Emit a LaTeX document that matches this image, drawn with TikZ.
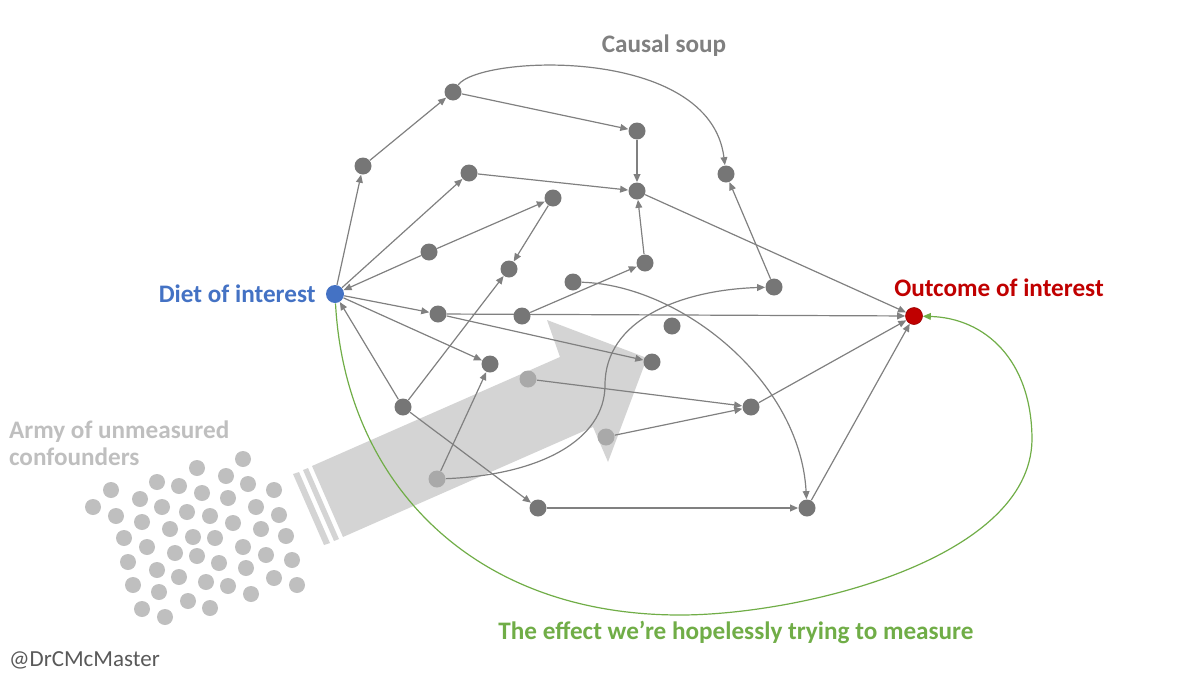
\documentclass[tikz,border=0pt]{standalone}
\usepackage{fontspec}
\setmainfont{Carlito}
\usetikzlibrary{positioning,arrows.meta}

\definecolor{soupgray}{HTML}{767676}
\definecolor{edgegray}{HTML}{808080}
\definecolor{fadegray}{HTML}{A9A9A9}
\definecolor{armygray}{HTML}{BFBFBF}
\definecolor{bigarrow}{HTML}{D4D4D4}
\definecolor{dietblue}{HTML}{4472C4}
\definecolor{outred}{HTML}{C00000}
\definecolor{effgreen}{HTML}{70AD47}

\pgfdeclarelayer{back}
\pgfsetlayers{back,main}

\begin{document}
\begin{tikzpicture}[x=0.5pt,y=-0.5pt,
  var/.style={circle, fill=soupgray, minimum size=8.5pt, inner sep=0pt},
  faded/.style={var, fill=fadegray},
  soldier/.style={circle, fill=armygray, minimum size=8pt, inner sep=0pt},
  edge/.style={draw=edgegray, line width=0.6pt, -{Triangle[length=4pt,width=3.4pt]}},
  effect/.style={draw=effgreen, line width=0.6pt, -{Triangle[length=4pt,width=3.4pt]}},
  title/.style={font=\bfseries\fontsize{12.6}{13.5}\selectfont}]
\useasboundingbox (0,0) rectangle (1200,675);

% Big arrow pushing the confounders in
\begin{pgfonlayer}{back}
\fill[bigarrow] (312,466) -- (560,357) -- (547,320) -- (647,358) -- (608,462) -- (593,427) -- (343,537) -- cycle;
\fill[bigarrow] (308,468) -- (303,470) -- (334,541) -- (339,539) -- cycle;
\fill[bigarrow] (299,472) -- (293,474) -- (324,545) -- (330,543) -- cycle;
\end{pgfonlayer}

% Army of unmeasured confounders
\foreach \x/\y [count=\i] in {243/459, 197/468, 226/476, 157/482, 179/486, 248/484,
  111/490, 274/490, 202/493, 228/498, 140/499, 93/507, 162/507, 256/507, 187/512,
  116/516, 210/516, 279/515, 233/523, 142/522, 170/529, 261/529, 124/538, 193/537,
  215/538, 286/536, 147/547, 243/547, 175/553, 197/556, 266/555, 128/562, 219/563,
  292/560, 157/570, 246/568, 179/577, 274/578, 206/582, 133/585, 228/586, 297/585,
  159/592, 251/594, 188/601, 142/609, 210/608, 165/617}
  \node[soldier] (s\i) at (\x,\y) {};

% Causal soup
\foreach \n/\x/\y in {f1/453/92, f2/363/166, f3/469/173, f4/637/131, f5/637/191,
  f6/553/198, f7/726/174, f8/429/252, f9/509/269, f10/645/263, f11/573/282,
  f12/438/314, f13/522/316, f14/490/364, f15/652/362, f16/774/287, f17/672/326,
  f19/403/407, f20/751/407, f23/538/508, f24/807/508}
  \node[var] (\n) at (\x,\y) {};
\foreach \n/\x/\y in {f18/528/379, f21/606/437, f22/437/479}
  \node[faded] (\n) at (\x,\y) {};

\node[circle, fill=dietblue, minimum size=9pt, inner sep=0pt] (diet) at (335,294) {};
\node[circle, fill=outred, draw=outred!80!black, line width=0.3pt, minimum size=8.5pt, inner sep=0pt] (outcome) at (914,316) {};

% Arrows
\begin{pgfonlayer}{back}
\foreach \a/\b in {f2/f1, f1/f4, f4/f5, f3/f5, f5/outcome, diet/f2, diet/f3,
  f8/f6, f6/f9, f8/diet, f10/f5, f13/f10, diet/f12, f12/outcome, f12/f15,
  diet/f14, f22/f14, f19/diet, f19/f9, f19/f23, f23/f24, f24/outcome,
  f20/outcome, f18/f20, f21/f20, f16/f7}
  \draw[edge] (\a) -- (\b);
\draw[edge] (f1) .. controls (480,55) and (710,45) .. (f7);
\draw[edge] (f11) .. controls (680,285) and (800,380) .. (f24);
\draw[edge] (f22) .. controls (540,475) and (605,440) .. (605,385)
  .. controls (605,320) and (680,290) .. (f16);
\draw[effect] (diet) .. controls (345,480) and (470,615) .. (680,615)
  .. controls (800,615) and (1030,560) .. (1032,440)
  .. controls (1032,360) and (985,318) .. (outcome);
\end{pgfonlayer}

% Labels
\node[title, text=edgegray] (soup) at (664,46) {Causal soup};
\node[title, text=dietblue, left=1.5pt of diet] (dietlabel) {Diet of interest};
\node[title, text=outred] (outlabel) at (999,288) {Outcome of interest};
\node[title, text=armygray, anchor=west, align=left] (armylabel) at (2,443) {Army of unmeasured\\confounders};
\node[title, text=effgreen] (effectlabel) at (736,632) {The effect we’re hopelessly trying to measure};
\node[font=\fontsize{11.5}{13}\selectfont, text=black!65, anchor=west] (handle) at (2,660) {@DrCMcMaster};
\end{tikzpicture}
\end{document}
